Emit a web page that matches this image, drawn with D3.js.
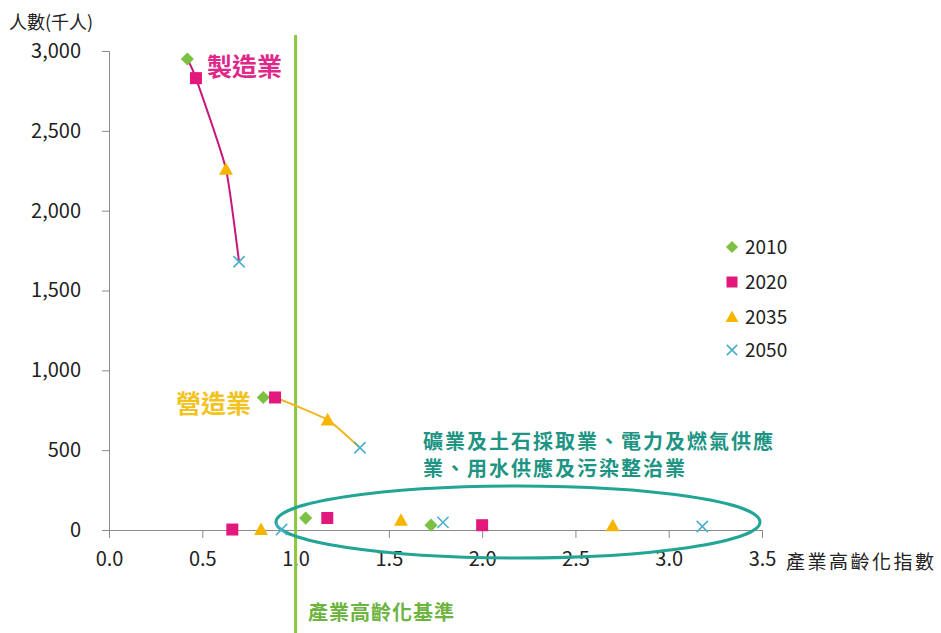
<!DOCTYPE html>
<html>
<head>
<meta charset="utf-8">
<script src="https://cdn.jsdelivr.net/npm/d3@7"></script>
<style>
  html, body { margin: 0; padding: 0; background: #fff; }
  svg { display: block; }
  text { font-family: "Noto Sans CJK TC", "Noto Sans", sans-serif; }
</style>
</head>
<body>
<svg id="chart" width="941" height="633"></svg>
<script>
// Survey years, one marker shape per year
const years = ["2010", "2020", "2035", "2050"];

// 製造業 (ageing index, workers in thousands)
const manufX = [0.42, 0.466, 0.627, 0.697];
const manufY = [2950, 2830, 2260, 1680];

// 營造業
const constrX = [0.827, 0.89, 1.172, 1.345];
const constrY = [830, 830, 690, 515];

// 電力及燃氣供應業
const powerX = [1.054, 1.17, 1.565, 1.79];
const powerY = [75, 75, 62, 48];

// 用水供應及污染整治業
const waterX = [1.726, 2.0, 2.70, 3.18];
const waterY = [30, 30, 27, 22];

// 礦業及土石採取業 (2010 not shown)
const miningX = [null, 0.661, 0.815, 0.925];
const miningY = [null, 3, 3, 3];

const xTicks = [0, 0.5, 1.0, 1.5, 2.0, 2.5, 3.0, 3.5];
const yTicks = [0, 500, 1000, 1500, 2000, 2500, 3000];
const agingThreshold = 1.0;

const yearColors = ["#7CC242", "#E2187C", "#F7B500", "#4AAFC9"];

const svg = d3.select("#chart");

const x = d3.scaleLinear().domain([0, 3.5]).range([109, 762]);
const y = d3.scaleLinear().domain([0, 3000]).range([530, 51]);

// Axes
const yAxis = d3.axisLeft(y).tickValues(yTicks).tickSize(7).tickPadding(21)
  .tickFormat(d3.format(","));
const gy = svg.append("g").attr("transform", `translate(${x(0)},0)`).call(yAxis);
gy.select(".domain").attr("stroke", "#8a8a8a");
gy.selectAll(".tick line").attr("stroke", "#8a8a8a");
gy.selectAll(".tick text").attr("font-size", 20).attr("fill", "#222")
  .attr("font-family", "'Noto Sans', sans-serif");

const xAxis = d3.axisBottom(x).tickValues(xTicks).tickSize(8).tickPadding(14)
  .tickFormat(d3.format(".1f"));
const gx = svg.append("g").attr("transform", `translate(0,${y(0)})`).call(xAxis);
gx.select(".domain").attr("stroke", "#8a8a8a");
gx.selectAll(".tick line").attr("stroke", "#8a8a8a");
gx.selectAll(".tick text").attr("font-size", 20).attr("fill", "#222")
  .attr("font-family", "'Noto Sans', sans-serif");

// Axis titles
svg.append("text").attr("x", 9).attr("y", 29).attr("font-size", 18).attr("fill", "#222")
  .text("人數(千人)");
svg.append("text").attr("x", 786).attr("y", 569).attr("font-size", 19).attr("fill", "#222")
  .attr("letter-spacing", 2.5).text("產業高齡化指數");

// Ageing threshold line
svg.append("line")
  .attr("x1", x(agingThreshold)).attr("x2", x(agingThreshold))
  .attr("y1", 35).attr("y2", 633)
  .attr("stroke", "#8DC73F").attr("stroke-width", 3);
svg.append("text").attr("x", 308).attr("y", 620).attr("font-size", 20)
  .attr("font-weight", "bold").attr("fill", "#6DB33F").attr("letter-spacing", 1)
  .text("產業高齡化基準");

// Trend lines for the two large industries (lightly smoothed)
const line = d3.line().x(d => x(d[0])).y(d => y(d[1])).curve(d3.curveCardinal.tension(0.55));
svg.append("path").datum(d3.zip(manufX, manufY)).attr("d", line)
  .attr("fill", "none").attr("stroke", "#C8177C").attr("stroke-width", 2);
svg.append("path").datum(d3.zip(constrX, constrY)).attr("d", line)
  .attr("fill", "none").attr("stroke", "#F2B51E").attr("stroke-width", 2);

// Group ellipse for the small industries
svg.append("ellipse").attr("cx", 518).attr("cy", 522).attr("rx", 242).attr("ry", 36)
  .attr("fill", "none").attr("stroke", "#22A595").attr("stroke-width", 3);

// Marker shapes per year
function drawMarker(g, yi, cx, cy, size) {
  const c = yearColors[yi];
  if (yi === 0) {
    const s = size * 0.55;
    g.append("path").attr("d", `M${cx},${cy - s}L${cx + s},${cy}L${cx},${cy + s}L${cx - s},${cy}Z`).attr("fill", c);
  } else if (yi === 1) {
    const s = size * 0.5;
    g.append("rect").attr("x", cx - s).attr("y", cy - s).attr("width", 2 * s).attr("height", 2 * s).attr("fill", c);
  } else if (yi === 2) {
    const s = size * 0.58;
    g.append("path").attr("d", `M${cx},${cy - s}L${cx + s},${cy + s * 0.8}L${cx - s},${cy + s * 0.8}Z`).attr("fill", c);
  } else {
    const s = size * 0.47;
    g.append("path").attr("d", `M${cx - s},${cy - s}L${cx + s},${cy + s}M${cx + s},${cy - s}L${cx - s},${cy + s}`)
      .attr("stroke", c).attr("stroke-width", 1.6).attr("fill", "none");
  }
}

const seriesX = [manufX, constrX, powerX, waterX, miningX];
const seriesY = [manufY, constrY, powerY, waterY, miningY];
const marks = svg.append("g");
years.forEach((yr, yi) => {
  seriesX.forEach((sx, si) => {
    if (sx[yi] == null) return;
    drawMarker(marks, yi, x(sx[yi]), y(seriesY[si][yi]), 12);
  });
});

// Industry labels
svg.append("text").attr("x", 207).attr("y", 76).attr("font-size", 25).attr("font-weight", "bold")
  .attr("fill", "#E0278A").text("製造業");
svg.append("text").attr("x", 176).attr("y", 413).attr("font-size", 25).attr("font-weight", "bold")
  .attr("fill", "#F3C21B").text("營造業");
const grp = svg.append("text").attr("font-size", 20).attr("font-weight", "bold").attr("fill", "#1E9484");
grp.append("tspan").attr("x", 423).attr("y", 449).attr("letter-spacing", 2).text("礦業及土石採取業、電力及燃氣供應");
grp.append("tspan").attr("x", 423).attr("y", 476).attr("letter-spacing", 2).text("業、用水供應及污染整治業");

// Legend
const legendY = [247, 282, 317, 350];
years.forEach((yr, yi) => {
  drawMarker(svg, yi, 732, legendY[yi], 11);
  svg.append("text").attr("x", 745).attr("y", legendY[yi]).attr("dy", "0.36em")
    .attr("font-size", 19).attr("fill", "#222").attr("font-family", "'Noto Sans', sans-serif").text(yr);
});
</script>
</body>
</html>
